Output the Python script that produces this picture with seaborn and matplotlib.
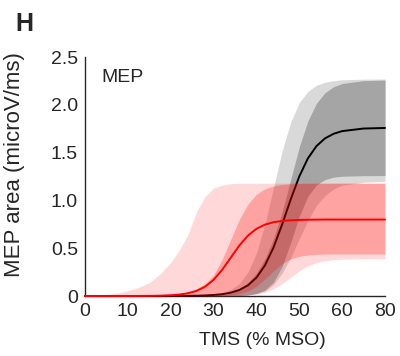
import matplotlib
matplotlib.use("Agg")
import matplotlib.pyplot as plt
import numpy as np
import pandas as pd
import seaborn as sns

# TMS intensity (axis units, last tick is labelled 80 in the original)
tms = [0, 2.5, 5, 7.5, 10, 12.5, 15, 17.5, 20, 22, 24, 26, 28, 30, 32, 34, 36, 38,
       40, 42, 44, 46, 48, 50, 52, 54, 56, 58, 60, 65, 70]

# black group: fitted mean, inner band (dark grey), outer band (light grey)
black_mean = [0, 0, 0, 0, 0, 0, 0, 0, 0.001, 0.001, 0.002, 0.003, 0.006, 0.011, 0.019,
              0.035, 0.063, 0.111, 0.192, 0.321, 0.509, 0.749, 1.011, 1.251, 1.439,
              1.568, 1.649, 1.697, 1.725, 1.752, 1.758]
black_in_hi = [0, 0, 0, 0, 0, 0, 0, 0, 0.001, 0.002, 0.003, 0.005, 0.009, 0.015, 0.026,
               0.045, 0.08, 0.14, 0.24, 0.39, 0.60, 0.88, 1.22, 1.56, 1.83, 2.016,
               2.127, 2.189, 2.223, 2.253, 2.259]
black_in_lo = [0, 0, 0, 0, 0, 0, 0, 0, 0, 0, 0, 0, 0, 0, 0, 0.002, 0.005, 0.011, 0.027,
               0.064, 0.147, 0.309, 0.56, 0.835, 1.044, 1.162, 1.218, 1.243, 1.253,
               1.259, 1.26]
black_out_hi = [0, 0, 0, 0, 0, 0, 0, 0, 0, 0.001, 0.002, 0.004, 0.008, 0.017, 0.034,
                0.067, 0.13, 0.248, 0.449, 0.754, 1.135, 1.517, 1.82, 2.023, 2.14,
                2.204, 2.236, 2.253, 2.262, 2.268, 2.27]
black_out_lo = [0, 0, 0, 0, 0, 0, 0, 0, 0, 0, 0, 0, 0, 0, 0.002, 0.004, 0.007, 0.013,
                0.025, 0.05, 0.12, 0.24, 0.40, 0.60, 0.79, 0.95, 1.05, 1.12, 1.16,
                1.19, 1.20]

# red group
red_mean = [0, 0, 0, 0.0001, 0.0003, 0.0007, 0.0015, 0.0035, 0.008, 0.015, 0.029,
            0.053, 0.097, 0.169, 0.273, 0.40, 0.527, 0.631, 0.703, 0.747, 0.772,
            0.785, 0.792, 0.796, 0.798, 0.799, 0.80, 0.80, 0.80, 0.80, 0.80]
red_in_hi = [0, 0, 0.0002, 0.0005, 0.001, 0.002, 0.003, 0.006, 0.012, 0.02, 0.04,
             0.075, 0.125, 0.219, 0.381, 0.59, 0.799, 0.961, 1.064, 1.122, 1.152,
             1.166, 1.173, 1.177, 1.179, 1.18, 1.18, 1.18, 1.18, 1.18, 1.18]
red_in_lo = [0, 0, 0, 0, 0, 0, 0, 0, 0, 0, 0, 0, 0.001, 0.002, 0.005, 0.012, 0.025,
             0.052, 0.102, 0.177, 0.263, 0.338, 0.388, 0.415, 0.428, 0.435, 0.438,
             0.44, 0.44, 0.44, 0.44]
red_out_hi = [0.005, 0.01, 0.018, 0.032, 0.055, 0.09, 0.14, 0.23, 0.35, 0.48, 0.64,
              0.88, 1.04, 1.13, 1.16, 1.175, 1.18, 1.18, 1.18, 1.18, 1.18, 1.18,
              1.18, 1.18, 1.18, 1.18, 1.18, 1.18, 1.18, 1.18, 1.18]
red_out_lo = [0, 0, 0, 0, 0, 0, 0, 0, 0, 0, 0, 0, 0, 0, 0, 0, 0.005, 0.01, 0.021,
              0.04, 0.075, 0.128, 0.195, 0.262, 0.315, 0.35, 0.369, 0.38, 0.385,
              0.389, 0.39]

xticks = [0, 10, 20, 30, 40, 50, 60, 70]
xticklabels = ["0", "10", "20", "30", "40", "50", "60", "80"]
yticks = [0, 0.5, 1.0, 1.5, 2.0, 2.5]
yticklabels = ["0", "0.5", "1.0", "1.5", "2.0", "2.5"]

sns.set_style("white")
plt.rcParams["font.family"] = ["Liberation Sans", "DejaVu Sans"]

df = pd.DataFrame({
    "tms": tms * 2,
    "mep": black_mean + red_mean,
    "group": ["black"] * len(tms) + ["red"] * len(tms),
})

fig = plt.figure(figsize=(4, 3.56), dpi=100)
ax = fig.add_axes([0.2125, 0.1685, 0.75, 0.6713])

# grey bands, then black mean
ax.fill_between(tms, black_out_lo, black_out_hi, color="#d9d9d9", lw=0)
ax.fill_between(tms, black_in_lo, black_in_hi, color="#a5a5a5", lw=0)
sns.lineplot(data=df[df.group == "black"], x="tms", y="mep", color="black",
             lw=1.4, ax=ax, clip_on=False, zorder=3)

# red bands on top (transparent), then red mean
ax.fill_between(tms, red_out_lo, red_out_hi, color="red", alpha=0.15, lw=0, zorder=4)
ax.fill_between(tms, red_in_lo, red_in_hi, color="red", alpha=0.25, lw=0, zorder=4)
sns.lineplot(data=df[df.group == "red"], x="tms", y="mep", color="red",
             lw=1.4, ax=ax, clip_on=False, zorder=5)

ax.set_xlim(0, 70)
ax.set_ylim(0, 2.5)
ax.set_xticks(xticks)
ax.set_xticklabels(xticklabels)
ax.set_yticks(yticks)
ax.set_yticklabels(yticklabels)
ax.tick_params(direction="in", length=3.5, width=0.8, color="#262626",
               labelsize=14, pad=5)
for side in ["top", "right"]:
    ax.spines[side].set_visible(False)
for side in ["left", "bottom"]:
    ax.spines[side].set_color("#262626")
    ax.spines[side].set_linewidth(1)

ax.set_xlabel("TMS (% MSO)", fontsize=14)
ax.set_ylabel("MEP area (microV/ms)", fontsize=16)
ax.xaxis.set_label_coords(0.59, -0.15)
ax.yaxis.set_label_coords(-0.2, 0.548)

ax.text(3.9, 2.29, "MEP", fontsize=14, ha="left", va="center")
fig.text(0.06, 0.933, "H", fontsize=18, fontweight="bold", ha="center", va="center")

fig.savefig("out.png", dpi=100)
